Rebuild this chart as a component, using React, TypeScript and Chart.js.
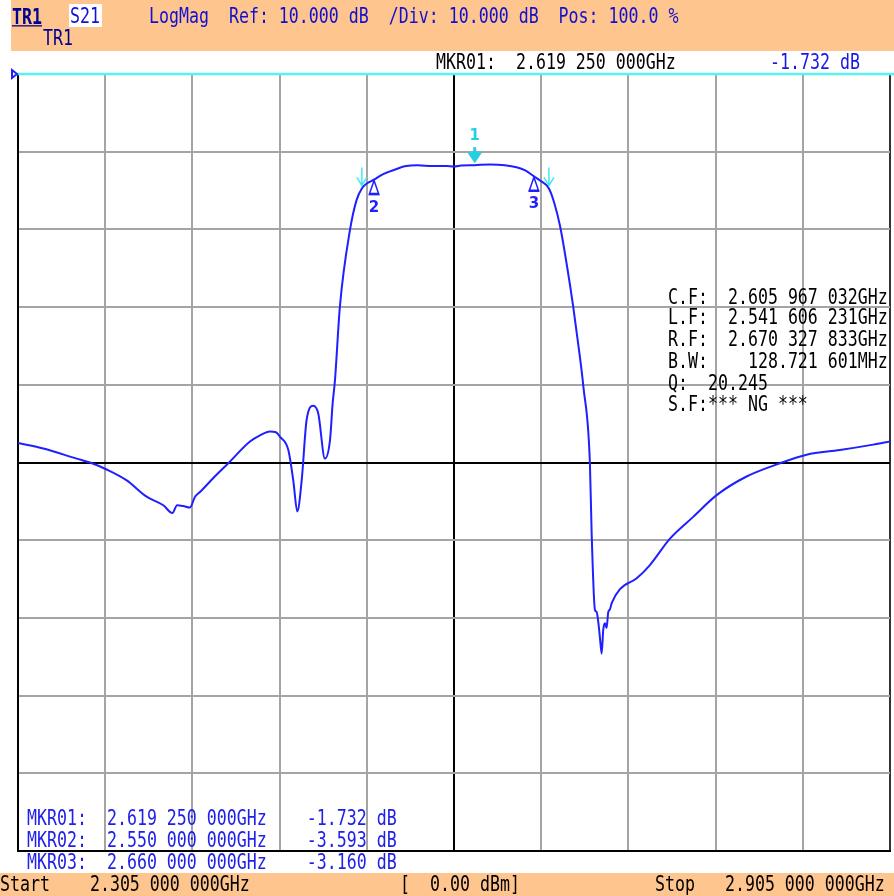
import React, { useEffect, useRef } from "react";
import { Chart, registerables } from "chart.js";

Chart.register(...registerables);

// ---- axis setup (MHz / dB) ----
const startMHz = 2305;
const stopMHz = 2905;
const stepMHz = 60;
const refDb = 10;
const divDb = 10;
const bottomDb = -90;
const centerMHz = 2605;
const centerDb = -40;

// ---- S21 trace ----
const freqMHz = [
  2305, 2322.4, 2345.4, 2354.5, 2366, 2379.8, 2393.5, 2405, 2411.2, 2414.5,
  2418.7, 2423.3, 2426.8, 2430.2, 2439.4, 2449.7, 2464.6, 2471.5, 2478.4, 2482.5,
  2485.3, 2491, 2494.4, 2497.2, 2500.2, 2503.6, 2508.2, 2511.6, 2516.2, 2519.7,
  2521.5, 2523.1, 2526.5, 2533.4, 2538, 2541.6, 2545, 2550, 2555, 2560,
  2565, 2572, 2580, 2590, 2600, 2605, 2610, 2619.25, 2630, 2640,
  2648, 2654, 2660, 2665, 2670.3, 2674, 2678, 2683, 2687, 2691,
  2694, 2698.5, 2699.7, 2702, 2703.1, 2704.2, 2705.4, 2706.6, 2707.7, 2708.9,
  2710, 2711.1, 2712.3, 2713.5, 2719.2, 2730.7, 2739.8, 2753.6, 2769.6, 2785.7,
  2806.3, 2829.3, 2847.6, 2870.5, 2893.4, 2905,
];
const s21Db = [
  -37.5, -38.2, -39.5, -40.0, -40.9, -42.3, -44.4, -45.5, -46.5, -45.5,
  -45.6, -45.8, -44.4, -43.8, -42.0, -40.1, -37.3, -36.5, -36.0, -36.1,
  -36.7, -38.4, -42.3, -46.3, -42.3, -34.5, -32.7, -33.7, -39.5, -37.1,
  -32.4, -29.4, -19.9, -10.1, -6.2, -4.73, -4.1, -3.593, -3.0, -2.6,
  -2.25, -1.85, -1.75, -1.85, -1.85, -1.9, -1.78, -1.732, -1.65, -1.75,
  -2.0, -2.4, -3.16, -3.8, -4.73, -6.6, -9.6, -15.0, -19.9, -25.5,
  -30.2, -40.0, -49.0, -59.0, -59.2, -60.4, -62.5, -64.6, -61.5, -60.7,
  -61.3, -59.3, -58.9, -58.1, -56.3, -54.9, -53.2, -49.8, -47.0, -44.2,
  -41.8, -40.1, -39.0, -38.4, -37.7, -37.3,
];

// ---- markers ----
const markerNames = ["1", "2", "3"];
const markerFreqs = [2619.25, 2550, 2660];
const markerDb = [-1.732, -3.593, -3.16];
const bwFreqs = [2541.606231, 2670.327833];
const bwLevelDb = -4.732;

// ---- annotation texts ----
const headerMarker = "MKR01:  2.619 250 000GHz";
const headerValue = "-1.732 dB";
const infoLines = [
  "C.F:  2.605 967 032GHz",
  "L.F:  2.541 606 231GHz",
  "R.F:  2.670 327 833GHz",
  "B.W:    128.721 601MHz",
  "Q:  20.245",
  "S.F:*** NG ***",
];
const markerLines = [
  "MKR01:  2.619 250 000GHz    -1.732 dB",
  "MKR02:  2.550 000 000GHz    -3.593 dB",
  "MKR03:  2.660 000 000GHz    -3.160 dB",
];

const TRACE = "#1f1fff";
const ORANGE = "#ffc58e";

const markerPlugin = {
  id: "vnaMarkers",
  afterDatasetsDraw(chart: any) {
    const { ctx, chartArea, scales } = chart;
    const xs = scales.x;
    const ys = scales.y;
    ctx.save();
    // reference level line
    const ry = ys.getPixelForValue(refDb);
    ctx.strokeStyle = "#55f3f3";
    ctx.lineWidth = 2.5;
    ctx.beginPath();
    ctx.moveTo(chartArea.left - 1, ry);
    ctx.lineTo(chart.width, ry);
    ctx.stroke();
    // reference position indicator
    ctx.strokeStyle = TRACE;
    ctx.lineWidth = 2;
    ctx.beginPath();
    ctx.moveTo(chartArea.left - 6, ry - 4);
    ctx.lineTo(chartArea.left - 1, ry);
    ctx.lineTo(chartArea.left - 6, ry + 4);
    ctx.closePath();
    ctx.stroke();

    // bandwidth arrows
    ctx.strokeStyle = "#45e6f6";
    ctx.lineWidth = 1.5;
    bwFreqs.forEach((f) => {
      const bx = xs.getPixelForValue(f);
      const by = ys.getPixelForValue(bwLevelDb);
      ctx.beginPath();
      ctx.moveTo(bx, by - 21);
      ctx.lineTo(bx, by - 3);
      ctx.moveTo(bx - 5, by - 11);
      ctx.lineTo(bx, by - 3);
      ctx.lineTo(bx + 5, by - 11);
      ctx.stroke();
    });

    ctx.textAlign = "center";
    ctx.textBaseline = "middle";
    ctx.font = "bold 15px 'DejaVu Sans'";
    markerFreqs.forEach((f, i) => {
      const px = xs.getPixelForValue(f);
      const py = ys.getPixelForValue(markerDb[i]);
      if (i === 0) {
        ctx.fillStyle = "#22d0e4";
        ctx.fillRect(px - 1.5, py - 18, 3, 6);
        ctx.beginPath();
        ctx.moveTo(px - 7.5, py - 13);
        ctx.lineTo(px + 7.5, py - 13);
        ctx.lineTo(px, py - 2);
        ctx.closePath();
        ctx.fill();
        ctx.fillText(markerNames[i], px, py - 29);
      } else {
        ctx.strokeStyle = TRACE;
        ctx.lineWidth = 1.5;
        ctx.beginPath();
        ctx.moveTo(px, py + 1);
        ctx.lineTo(px - 4.5, py + 14);
        ctx.lineTo(px + 4.5, py + 14);
        ctx.closePath();
        ctx.stroke();
        ctx.beginPath();
        ctx.moveTo(px - 5.5, py + 15);
        ctx.lineTo(px + 5.5, py + 15);
        ctx.stroke();
        ctx.fillStyle = TRACE;
        ctx.fillText(markerNames[i], px, py + 28);
      }
    });
    ctx.restore();
  },
};

const MONO = "'DejaVu Sans Mono', 'Liberation Mono', monospace";

function T(props: {
  x: number;
  y: number;
  color: string;
  children: React.ReactNode;
  bold?: boolean;
  underline?: boolean;
}) {
  return (
    <div
      style={{
        position: "absolute",
        left: props.x,
        top: props.y,
        color: props.color,
        fontFamily: MONO,
        fontSize: 16.6,
        lineHeight: "17px",
        whiteSpace: "pre",
        fontWeight: props.bold ? "bold" : "normal",
        textDecoration: props.underline ? "underline" : "none",
        transform: "scaleY(1.28)",
        transformOrigin: "left top",
      }}
    >
      {props.children}
    </div>
  );
}

export default function App() {
  const canvasRef = useRef<HTMLCanvasElement | null>(null);

  useEffect(() => {
    const canvas = canvasRef.current;
    if (!canvas) return;
    const points = freqMHz.map((f, i) => ({ x: f, y: s21Db[i] }));
    const chart = new Chart(canvas, {
      type: "line",
      data: {
        datasets: [
          {
            label: "S21",
            data: points,
            borderColor: TRACE,
            borderWidth: 2,
            pointRadius: 0,
            cubicInterpolationMode: "monotone",
            fill: false,
          },
        ],
      },
      options: {
        animation: false,
        responsive: false,
        devicePixelRatio: 1,
        parsing: false as any,
        layout: { padding: { left: 18, top: 74, right: 4, bottom: 45 } },
        plugins: {
          legend: { display: false },
          tooltip: { enabled: false },
          title: { display: false },
        },
        scales: {
          x: {
            type: "linear",
            min: startMHz,
            max: stopMHz,
            ticks: { display: false, stepSize: stepMHz },
            grid: {
              drawTicks: false,
              lineWidth: 2,
              color: (c: any) => {
                const v = c.tick ? c.tick.value : 0;
                if (v === centerMHz || v === startMHz) return "#000000";
                if (v === stopMHz) return "#333333";
                return "#a4a4a4";
              },
            },
            border: { display: true, color: "#000000", width: 2 },
          },
          y: {
            type: "linear",
            min: bottomDb,
            max: refDb,
            ticks: { display: false, stepSize: divDb },
            grid: {
              drawTicks: false,
              lineWidth: 2,
              color: (c: any) => {
                const v = c.tick ? c.tick.value : 0;
                if (v === refDb) return "rgba(0,0,0,0)";
                if (v === centerDb || v === bottomDb) return "#000000";
                return "#a4a4a4";
              },
            },
            border: { display: true, color: "#000000", width: 2 },
          },
        },
      },
      plugins: [markerPlugin],
    });
    return () => chart.destroy();
  }, []);

  return (
    <div
      style={{
        position: "absolute",
        left: 0,
        top: 0,
        width: 894,
        height: 896,
        background: "#ffffff",
        overflow: "hidden",
      }}
    >
      <div style={{ position: "absolute", left: 11, top: 0, width: 883, height: 51, background: ORANGE }} />
      <div style={{ position: "absolute", left: 0, top: 873, width: 894, height: 23, background: ORANGE }} />
      <div style={{ position: "absolute", left: 69, top: 4, width: 33, height: 23, background: "#ffffff" }} />
      <canvas
        ref={canvasRef}
        width={894}
        height={896}
        style={{ position: "absolute", left: 0, top: 0, width: 894, height: 896 }}
      />
      <T x={12} y={6} color="#00008e" bold underline>TR1</T>
      <T x={70} y={5} color="#1010d8">S21</T>
      <T x={149} y={5} color="#1010d0">{"LogMag  Ref: 10.000 dB  /Div: 10.000 dB  Pos: 100.0 %"}</T>
      <T x={43} y={27} color="#00008e">TR1</T>
      <T x={436} y={51} color="#000000">{headerMarker}</T>
      <T x={770} y={51} color="#1818e8">{headerValue}</T>
      {infoLines.map((s, i) => (
        <T key={"i" + i} x={668} y={[286, 306, 328, 350, 372, 393][i]} color="#000000">{s}</T>
      ))}
      {markerLines.map((s, i) => (
        <T key={"m" + i} x={27} y={807 + i * 22} color="#2020e8">{s}</T>
      ))}
      <T x={0} y={873} color="#000000">{"Start    2.305 000 000GHz"}</T>
      <T x={400} y={873} color="#000000">{"[  0.00 dBm]"}</T>
      <T x={655} y={873} color="#000000">{"Stop   2.905 000 000GHz"}</T>
    </div>
  );
}
